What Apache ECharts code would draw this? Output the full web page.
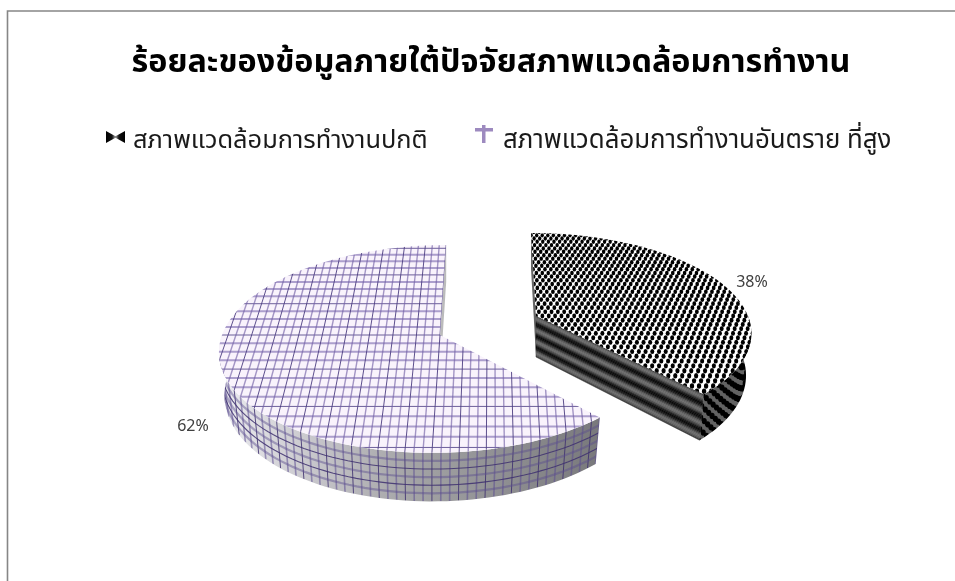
<!DOCTYPE html>
<html>
<head>
<meta charset="utf-8">
<style>html,body{margin:0;padding:0;background:#fff}#chart{width:955px;height:581px}</style>
<script src="https://cdn.jsdelivr.net/npm/echarts@6/dist/echarts.min.js"></script>
</head>
<body>
<div id="chart"></div>
<script>
const titleText = 'ร้อยละของข้อมูลภายใต้ปัจจัยสภาพแวดล้อมการทำงาน';
const categories = ['สภาพแวดล้อมการทำงานปกติ', 'สภาพแวดล้อมการทำงานอันตราย ที่สูง'];
const percents = [38, 62];

const FONT = '"Noto Sans Thai","Noto Sans","Noto Sans CJK SC",Tahoma,sans-serif';
const W = 955, H = 581;

// Perspective model of each pie wedge: circle coordinates (u, v) on the unit disc
// are projected to the page; z runs from the top face (0) to the base (1).
const views = [
  { cx: 536, cy: 316, bx: 212, ay: 95.5, p: 0.15, s: 5.75, drop: 41 },
  { cx: 440, cy: 335, bx: 218, ay: 102, p: 0.1346, s: -7, drop: 42 }
];
function project(view, u, v, z) {
  const w = 1 / (1 - view.p * v);
  return [
    view.cx + (view.bx * u * (1 - 0.025 * z) + view.s * v) * w,
    view.cy + (view.ay * v + view.drop * z) * w
  ];
}
function circlePoint(view, deg, z) {
  const a = deg * Math.PI / 180;
  return project(view, Math.sin(a), -Math.cos(a), z);
}
function arc(view, a0, a1, z) {
  const n = Math.max(2, Math.ceil(Math.abs(a1 - a0) / 2));
  const pts = [];
  for (let i = 0; i <= n; i++) pts.push(circlePoint(view, a0 + (a1 - a0) * i / n, z));
  return pts;
}

function newTexture(bg, width, height) {
  const c = document.createElement('canvas');
  c.width = width || W; c.height = height || H;
  const g = c.getContext('2d');
  if (bg) { g.fillStyle = bg; g.fillRect(0, 0, c.width, c.height); }
  return [c, g];
}
// Slightly softens a finished texture so its fine pattern reads as a scaled bitmap.
function soften(src, radius) {
  const [c, g] = newTexture(null, src.width, src.height);
  g.filter = `blur(${radius}px)`;
  g.drawImage(src, 0, 0);
  return c;
}
function polyline(g, pts) {
  g.beginPath();
  pts.forEach((q, i) => i ? g.lineTo(q[0], q[1]) : g.moveTo(q[0], q[1]));
}
// Dot pattern of the first wedge, laid out in disc coordinates.
function checkerTexture(view) {
  const [c, g] = newTexture('#ffffff');
  const du = 0.015, dv = 0.044;
  const k = 0.58;
  g.fillStyle = '#000';
  for (let i = -80; i <= 80; i++) for (let j = -30; j <= 30; j++) {
    if ((i + j) & 1) continue;
    const v = j * dv;
    const q = project(view, i * du, v, 0);
    const w = 1 / (1 - view.p * v);
    g.beginPath();
    g.ellipse(q[0], q[1], k * du * view.bx * w * 1.05, k * dv * view.ay * w, 0, 0, 7);
    g.fill();
  }
  return soften(c, 0.4);
}
// Lined pattern of the second wedge, also in disc coordinates.
function gridTexture(view) {
  const [c, g] = newTexture('#f9f3fc');
  const du = 0.036, dv = 0.08;
  for (let j = -16; j <= 16; j++) {
    const strong = j % 4 === 0;
    g.strokeStyle = strong ? 'rgba(84,68,136,0.85)' : 'rgba(124,106,176,0.62)';
    g.lineWidth = strong ? 1 : 2;
    polyline(g, [project(view, -1.2, j * dv, 0), project(view, 1.2, j * dv, 0)]);
    g.stroke();
  }
  for (let i = -32; i <= 32; i++) {
    const strong = i % 3 === 0;
    g.strokeStyle = strong ? 'rgba(76,62,130,0.9)' : 'rgba(116,98,168,0.65)';
    g.lineWidth = strong ? 1 : 1.4;
    polyline(g, [project(view, i * du, -1.1, 0), project(view, i * du, 1.1, 0)]);
    g.stroke();
  }
  return soften(c, 0.3);
}
function sideTexture(view) {
  const [c, g] = newTexture('#fff');
  const grad = g.createLinearGradient(222, 0, 597, 0);
  grad.addColorStop(0, '#ececf0');
  grad.addColorStop(0.25, '#c6c5ca');
  grad.addColorStop(0.5, '#a4a4a6');
  grad.addColorStop(0.75, '#8f8f92');
  grad.addColorStop(1, '#79797c');
  g.fillStyle = grad; g.fillRect(0, 0, W, H);
  for (let i = -32; i <= 32; i++) {
    const u = i * 0.036;
    if (Math.abs(u) >= 1) continue;
    const v = Math.sqrt(1 - u * u);
    const strong = i % 3 === 0;
    g.strokeStyle = strong ? 'rgba(62,48,112,0.85)' : 'rgba(92,78,146,0.55)';
    g.lineWidth = strong ? 1 : 1.6;
    polyline(g, [project(view, u, v, 0), project(view, u, v, 1)]);
    g.stroke();
  }
  for (let k = 1; k < 6; k++) {
    const pts = arc(view, 90, 280, k / 6);
    const strong = k % 2 === 0;
    g.strokeStyle = strong ? 'rgba(62,48,112,0.85)' : 'rgba(92,78,142,0.45)';
    g.lineWidth = strong ? 1.1 : 2.2;
    polyline(g, pts);
    g.stroke();
  }
  return soften(c, 0.3);
}
function firstSideTexture(view) {
  const [c, g] = newTexture('#626262');
  g.fillStyle = '#000';
  const du = 0.02;
  for (let i = 0; i < 24; i++) for (let k = -1; k <= 10; k++) {
    if ((i + k) & 1) continue;
    const u = 1 - i * du;
    const q = project(view, u, Math.sqrt(1 - u * u), k / 8);
    g.beginPath(); g.ellipse(q[0], q[1], 2.6, 3.1, 0, 0, 7); g.fill();
  }
  return soften(c, 0.5);
}
// Legend keys: a fading bow-tie and a dagger-like cross, padded so the text starts clear of them.
function bowtieIcon() {
  const [c, g] = newTexture(null, 22, 36);
  const left = g.createLinearGradient(0, 0, 10, 0);
  left.addColorStop(0, '#000'); left.addColorStop(0.6, '#111'); left.addColorStop(1, 'rgba(0,0,0,0.25)');
  g.fillStyle = left;
  polyline(g, [[0, 6], [10, 11.5], [10, 12.5], [0, 18]]); g.closePath(); g.fill();
  const right = g.createLinearGradient(19, 0, 9, 0);
  right.addColorStop(0, '#000'); right.addColorStop(0.6, '#111'); right.addColorStop(1, 'rgba(0,0,0,0.25)');
  g.fillStyle = right;
  polyline(g, [[19, 6], [9, 11.5], [9, 12.5], [19, 18]]); g.closePath(); g.fill();
  return soften(c, 0.4);
}
function crossIcon() {
  const [c, g] = newTexture(null, 23, 36);
  g.fillStyle = '#9d8abf';
  g.fillRect(0, 3, 18, 3.5);
  g.fillRect(7, 0, 3.5, 18);
  return soften(c, 0.4);
}

function sweepOf(index) {
  // Wedges are laid out clockwise from twelve o'clock.
  const total = percents.reduce((a, b) => a + b, 0);
  let start = 0;
  for (let i = 0; i < index; i++) start += percents[i] / total * 360;
  return [start, start + percents[index] / total * 360];
}
function poly(points, style) {
  return { type: 'polygon', shape: { points }, style };
}
function wallBetween(view, a0, a1) {
  return arc(view, a0, a1, 0).concat(arc(view, a1, a0, 1));
}
function radialWall(view, deg) {
  return [project(view, 0, 0, 0), circlePoint(view, deg, 0), circlePoint(view, deg, 1), project(view, 0, 0, 1)];
}
// Cut face of the first wedge: grey strips darkening into three black bands.
function bandedWall(view, deg) {
  const strips = [];
  const n = 36;
  for (let i = 0; i < n; i++) {
    const z0 = i / n, z1 = (i + 1) / n;
    const mid = (z0 + z1) / 2;
    const level = Math.round(55 + 50 * Math.cos(2 * Math.PI * (mid - 0.08) / 0.28));
    const colour = `rgb(${level},${level},${level})`;
    strips.push(poly([project(view, 0, 0, z0), circlePoint(view, deg, z0), circlePoint(view, deg, z1), project(view, 0, 0, z1)],
      { fill: colour, stroke: colour, lineWidth: 0.5 }));
  }
  return strips;
}

function renderFirst(params, api) {
  const view = views[0];
  const [a0, a1] = sweepOf(0);
  const share = api.value(0);
  const children = [
    poly(radialWall(view, a0), { fill: '#666' }),
    ...bandedWall(view, a1),
    poly(wallBetween(view, 90, a1), { fill: { image: firstSide, repeat: 'no-repeat' } }),
    poly([project(view, 0, 0, 0)].concat(arc(view, a0, a1, 0)), { fill: { image: firstTop, repeat: 'no-repeat' } }),
    { type: 'text', style: { text: share + '%', x: 752, y: 284, align: 'center', verticalAlign: 'middle', fontFamily: FONT, fontSize: 16, fill: '#404040' } }
  ];
  return { type: 'group', children };
}
function renderSecond(params, api) {
  const view = views[1];
  const [a0, a1] = sweepOf(1);
  const share = api.value(0);
  const children = [
    poly(radialWall(view, a1), { fill: '#bbb' }),
    poly(wallBetween(view, a0, 270), { fill: { image: secondSide, repeat: 'no-repeat' } }),
    poly([project(view, 0, 0, 0)].concat(arc(view, a0, a1, 0)), { fill: { image: secondTop, repeat: 'no-repeat' } }),
    { type: 'text', style: { text: share + '%', x: 193, y: 428, align: 'center', verticalAlign: 'middle', fontFamily: FONT, fontSize: 16, fill: '#404040' } }
  ];
  return { type: 'group', children };
}

const firstTop = checkerTexture(views[0]);
const firstSide = firstSideTexture(views[0]);
const secondTop = gridTexture(views[1]);
const secondSide = sideTexture(views[1]);

const chart = echarts.init(document.getElementById('chart'), null, { renderer: 'canvas' });
chart.setOption({
  animation: false,
  backgroundColor: '#ffffff',
  title: {
    text: titleText, left: 486, top: 44, textAlign: 'center',
    textStyle: { fontFamily: FONT, fontSize: 32.3, fontWeight: 'bold', color: '#000' }
  },
  legend: [
    {
      data: [{ name: categories[0], icon: 'image://' + bowtieIcon().toDataURL() }],
      left: 106, top: 125, padding: 0, itemWidth: 22, itemHeight: 36,
      textStyle: { fontFamily: FONT, fontSize: 25.4, color: '#1a1a1a' }
    },
    {
      data: [{ name: categories[1], icon: 'image://' + crossIcon().toDataURL() }],
      left: 475, top: 125, padding: 0, itemWidth: 23, itemHeight: 36,
      textStyle: { fontFamily: FONT, fontSize: 25.8, color: '#1a1a1a' }
    }
  ],
  graphic: [
    { type: 'polyline', shape: { points: [[7.5, 581], [7.5, 11], [955, 11]] }, style: { stroke: '#868686', lineWidth: 1.6, fill: null }, silent: true }
  ],
  series: [
    { type: 'custom', name: categories[0], coordinateSystem: 'none', data: [[percents[0]]], renderItem: renderFirst, silent: true, z: 3 },
    { type: 'custom', name: categories[1], coordinateSystem: 'none', data: [[percents[1]]], renderItem: renderSecond, silent: true, z: 2 }
  ]
});
</script>
</body>
</html>
